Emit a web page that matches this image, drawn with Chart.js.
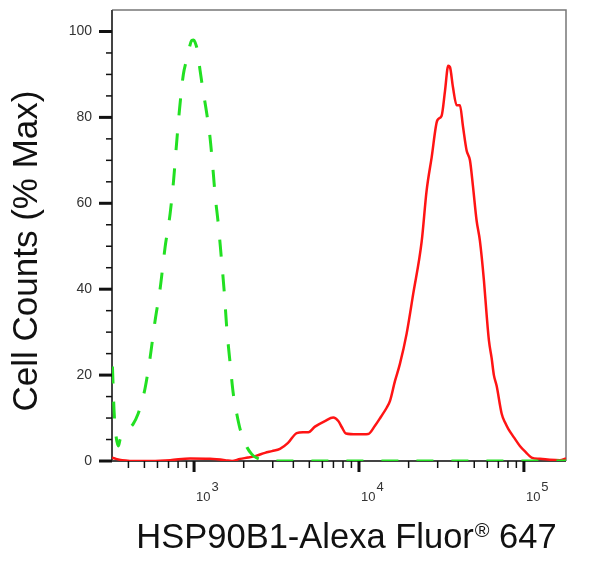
<!DOCTYPE html>
<html>
<head>
<meta charset="utf-8">
<script src="https://cdn.jsdelivr.net/npm/chart.js@4.4.1/dist/chart.umd.min.js"></script>
<style>
  html, body { margin: 0; padding: 0; background: #fff; }
  #wrap { width: 611px; height: 566px; }
</style>
</head>
<body>
<div id="wrap"><canvas id="chart-hist" width="611" height="566"></canvas></div>
<script>
// isotype control (green dashed)
var controlX = [320, 327, 336, 348, 356, 387, 427, 458, 484, 505, 541, 580, 622, 667, 716, 750, 786, 815, 861, 895,
  933, 968, 993, 1014, 1047, 1087, 1129, 1194, 1250, 1309, 1341, 1404, 1458, 1527, 1578, 1652, 1730, 1815, 1900, 1990,
  2094, 2237, 2375, 2570, 2890, 5000, 20000, 80000, 180000];
var controlY = [22, 12, 6, 3.5, 5, 7, 8.6, 11, 14, 17, 24, 32.6, 40, 49.7, 57.6, 65, 74.6, 81.6, 90, 93,
  96, 97.9, 98, 97.5, 95.6, 91, 86.7, 80.9, 75.3, 66.9, 62, 55, 48, 39, 31, 23, 15.6, 11, 7.5, 5.4,
  3.2, 1.6, 0.8, 0.3, 0, 0, 0, 0, 0];

// HSP90B1 stained (red)
var stainX = [318, 336, 366, 471, 716, 946, 1250, 1541, 1700, 1900, 2124, 2375, 2692, 2970, 3318, 3714, 4190, 4580, 4933, 5409,
  6218, 6983, 7492, 7890, 8340, 9724, 11380, 12500, 13590, 14720, 15420, 16520, 17710, 19440, 21320, 23980, 25700, 27590, 29840, 31710,
  33200, 34760, 35620, 37150, 39100, 40950, 42680, 44940, 47080, 49100, 51660, 54090, 57240, 59440, 61380, 63710, 65760, 68330, 73330, 76780,
  80400, 86980, 94560, 102900, 111300, 125000, 143700, 165300, 180000];
var stainY = [0.8, 0.5, 0.2, 0, 0.2, 0.6, 0.5, 0.2, 0, 0.5, 0.8, 1.2, 1.9, 2.3, 2.8, 4.2, 6.5, 6.7, 6.7, 8,
  9.3, 10.1, 9.3, 7.8, 6.4, 6.2, 6.3, 8.2, 10.3, 12.4, 14, 18.6, 22.6, 29.6, 38.9, 51, 62.9, 70.7, 79.3, 80.4,
  86, 92, 91.7, 87, 82.8, 82.8, 78, 72.3, 70, 64, 56, 51.3, 42, 34, 28, 24, 20, 17.5, 11, 9,
  7.5, 5.5, 3.5, 2, 0.8, 0.5, 0.3, 0.2, 0.6];

// ticks
var yTicks = [0, 20, 40, 60, 80, 100];
var yMinorTicks = [5, 10, 15, 25, 30, 35, 45, 50, 55, 65, 70, 75, 85, 90, 95];
var xMajorTicks = [1000, 10000, 100000];
var xMinorTicks = [400, 500, 600, 700, 800, 900, 2000, 3000, 4000, 5000, 6000, 7000, 8000, 9000,
  20000, 30000, 40000, 50000, 60000, 70000, 80000, 90000];
var xTickBase = ["10", "10", "10"];
var xTickExp = ["3", "4", "5"];

var yTitle = "Cell Counts (% Max)";
var xTitle = ["HSP90B1-Alexa Fluor", "\u00AE", " 647"];

function toPoints(xs, ys) {
  return xs.map(function (x, i) { return { x: x, y: ys[i] }; });
}

function tick(c, x1, y1, x2, y2, w) {
  c.lineWidth = w;
  c.beginPath();
  c.moveTo(x1, y1);
  c.lineTo(x2, y2);
  c.stroke();
}

var histFrame = {
  id: "histFrame",
  beforeDatasetsDraw: function (chart) {
    var c = chart.ctx, a = chart.chartArea, xs = chart.scales.x, ys = chart.scales.y;
    c.save();
    // top + right border
    c.strokeStyle = "#777";
    c.lineWidth = 1.5;
    c.beginPath();
    c.moveTo(a.left, a.top);
    c.lineTo(a.right, a.top);
    c.lineTo(a.right, a.bottom);
    c.stroke();
    // axes
    c.strokeStyle = "#444";
    c.lineWidth = 2;
    c.beginPath();
    c.moveTo(a.left, a.top);
    c.lineTo(a.left, a.bottom);
    c.lineTo(a.right, a.bottom);
    c.stroke();
    // tick marks
    c.strokeStyle = "#111";
    yMinorTicks.forEach(function (v) {
      var p = ys.getPixelForValue(v);
      tick(c, a.left - 6, p, a.left, p, 1.5);
    });
    yTicks.forEach(function (v) {
      var p = ys.getPixelForValue(v);
      tick(c, a.left - 13, p, a.left, p, 3);
    });
    xMinorTicks.forEach(function (v) {
      var p = xs.getPixelForValue(v);
      tick(c, p, a.bottom, p, a.bottom + 7, 1.5);
    });
    xMajorTicks.forEach(function (v) {
      var p = xs.getPixelForValue(v);
      tick(c, p, a.bottom, p, a.bottom + 11, 3);
    });
    c.restore();
  },
  afterDraw: function (chart) {
    var c = chart.ctx, xs = chart.scales.x;
    c.save();
    // x tick labels 10^n
    c.fillStyle = "#333";
    c.textAlign = "left";
    c.textBaseline = "alphabetic";
    xMajorTicks.forEach(function (v, i) {
      var p = xs.getPixelForValue(v);
      c.font = "13px 'Liberation Sans', Arial, sans-serif";
      c.fillText(xTickBase[i], p + 2, 501);
      var w = c.measureText(xTickBase[i]).width;
      c.fillText(xTickExp[i], p + 3 + w, 491);
    });

    // y title
    c.fillStyle = "#111";
    c.save();
    c.translate(37, 251);
    c.rotate(-Math.PI / 2);
    c.textAlign = "center";
    c.font = "35px 'Liberation Sans', Arial, sans-serif";
    c.fillText(yTitle, 0, 0);
    c.restore();

    // x title with superscript (R)
    var big = "34.5px 'Liberation Sans', Arial, sans-serif";
    var small = "20px 'Liberation Sans', Arial, sans-serif";
    c.font = big;
    var w1 = c.measureText(xTitle[0]).width;
    var w3 = c.measureText(xTitle[2]).width;
    c.font = small;
    var w2 = c.measureText(xTitle[1]).width + 1;
    var x0 = 346.5 - (w1 + w2 + w3) / 2;
    c.textAlign = "left";
    c.font = big;
    c.fillText(xTitle[0], x0, 548);
    c.font = small;
    c.fillText(xTitle[1], x0 + w1 + 1, 537);
    c.font = big;
    c.fillText(xTitle[2], x0 + w1 + w2, 548);
    c.restore();
  }
};

var ctx = document.getElementById("chart-hist").getContext("2d");

new Chart(ctx, {
  type: "line",
  data: {
    datasets: [
      {
        label: "Isotype control",
        data: toPoints(controlX, controlY),
        borderColor: "#22e022",
        borderWidth: 3,
        borderDash: [17, 18],
        pointRadius: 0,
        cubicInterpolationMode: "monotone",
        fill: false,
        order: 0
      },
      {
        label: "HSP90B1",
        data: toPoints(stainX, stainY),
        borderColor: "#ff1414",
        borderWidth: 2.5,
        pointRadius: 0,
        cubicInterpolationMode: "monotone",
        fill: false,
        order: 1
      }
    ]
  },
  options: {
    responsive: false,
    animation: false,
    devicePixelRatio: 1,
    layout: { padding: { top: 10, right: 45, left: 0, bottom: 0 } },
    plugins: {
      legend: { display: false },
      tooltip: { enabled: false }
    },
    scales: {
      x: {
        type: "logarithmic",
        min: 318,
        max: 180000,
        grid: { display: false, drawTicks: false },
        border: { display: false },
        ticks: { display: false },
        afterFit: function (s) {
          s.height = 105;
          s.paddingLeft = 0;
          s.paddingRight = 0;
        }
      },
      y: {
        min: 0,
        max: 105,
        grid: { display: false, drawTicks: false },
        border: { display: false },
        afterBuildTicks: function (s) {
          s.ticks = yTicks.map(function (v) { return { value: v }; });
        },
        ticks: {
          padding: 20,
          color: "#333",
          font: { size: 14, family: "'Liberation Sans', Arial, sans-serif" }
        },
        afterFit: function (s) {
          s.width = 112;
          s.paddingTop = 0;
          s.paddingBottom = 0;
        }
      }
    }
  },
  plugins: [histFrame]
});
</script>
</body>
</html>
